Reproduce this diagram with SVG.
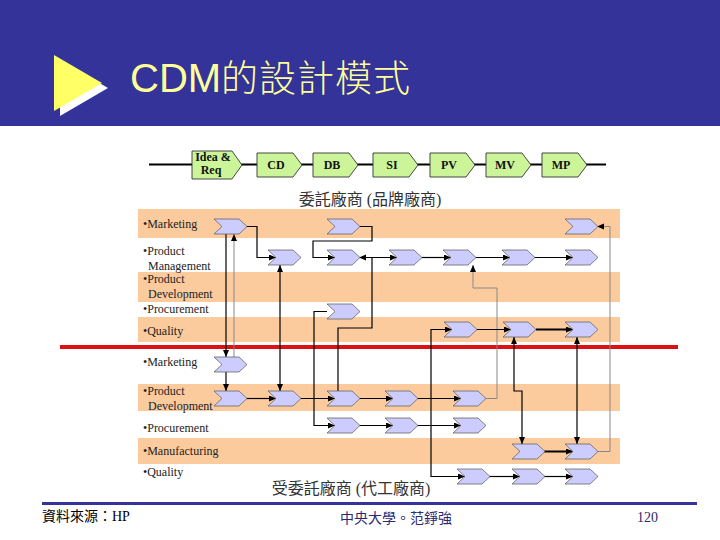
<svg xmlns="http://www.w3.org/2000/svg" xmlns:xlink="http://www.w3.org/1999/xlink" width="720" height="540" viewBox="0 0 720 540">
<style>
.band{fill:#FBCB9E}
.ch{fill:#CCCCFF;stroke:#666;stroke-width:0.8}
.ph{fill:#CCF59A;stroke:#333;stroke-width:0.9}
.pt{font-family:"Liberation Serif",serif;font-weight:bold;font-size:12px;fill:#111;text-anchor:middle}
.lb{font-family:"Liberation Serif",serif;font-size:12px;fill:#222}
.cap{font-family:"Liberation Serif","Noto Sans CJK TC",serif;font-size:16px;fill:#333}
.c{fill:none;stroke:#000;stroke-width:1.2}
.g{fill:none;stroke:#888;stroke-width:1}
.t{fill:none;stroke:#000;stroke-width:2}
.ft{font-family:"Liberation Serif","Noto Sans CJK TC",serif;font-size:14px}
</style>
<defs>
<marker id="ah" markerUnits="userSpaceOnUse" markerWidth="8" markerHeight="7" refX="7" refY="3" orient="auto-start-reverse"><path d="M0,0 L7,3 L0,6 Z" fill="#000"/></marker>
<path id="chev" d="M0,0 L25,0 L33,7.5 L25,15 L0,15 L8,7.5 Z"/>
<path id="phase" d="M0,0 L36,0 L45,12 L36,24 L0,24 Z"/>
</defs>
<rect width="720" height="540" fill="#fff"/>
<g id="header">
<rect x="0" y="0" width="720" height="126" fill="#333399"/>
<polygon points="60,60 60,116 108,88" fill="#fff"/>
<polygon points="54,55 54,111 102,83" fill="#FFFF66"/>
<text x="130" y="92" font-family="Liberation Sans,Noto Sans CJK TC,sans-serif" font-size="40" fill="#FFFF99">CDM<tspan font-family="Noto Sans CJK TC,sans-serif" font-size="37" font-weight="300" letter-spacing="1">的設計模式</tspan></text>
</g>
<g id="bands">
<rect class="band" x="138" y="209" width="482" height="29"/>
<rect class="band" x="138" y="272" width="482" height="30"/>
<rect class="band" x="138" y="317" width="482" height="25"/>
<rect class="band" x="138" y="384" width="482" height="27"/>
<rect class="band" x="138" y="438" width="482" height="26"/>
</g>
<g id="phases">
<line x1="149" y1="164.5" x2="606" y2="164.5" stroke="#000" stroke-width="2"/>
<path class="ph" d="M192,151 L232,151 L242,165 L232,179 L192,179 Z"/>
<text class="pt" x="213" y="161">Idea &amp;</text>
<text class="pt" x="211" y="174">Req</text>
<g id="p-cd"><use href="#phase" class="ph" x="257" y="153"/><text class="pt" x="276" y="169">CD</text></g>
<g id="p-db"><use href="#phase" class="ph" x="313" y="153"/><text class="pt" x="332" y="169">DB</text></g>
<g id="p-si"><use href="#phase" class="ph" x="373" y="153"/><text class="pt" x="392" y="169">SI</text></g>
<g id="p-pv"><use href="#phase" class="ph" x="430" y="153"/><text class="pt" x="449" y="169">PV</text></g>
<g id="p-mv"><use href="#phase" class="ph" x="486" y="153"/><text class="pt" x="505" y="169">MV</text></g>
<g id="p-mp"><use href="#phase" class="ph" x="542" y="153"/><text class="pt" x="561" y="169">MP</text></g>
</g>
<text class="cap" x="370" y="205" text-anchor="middle">委託廠商 (品牌廠商)</text>
<text class="cap" x="351" y="494" text-anchor="middle">受委託廠商 (代工廠商)</text>
<g id="labels">
<text class="lb" x="143" y="228">•Marketing</text>
<text class="lb" x="143" y="255">•Product</text>
<text class="lb" x="148" y="270">Management</text>
<text class="lb" x="143" y="283">•Product</text>
<text class="lb" x="148" y="298">Development</text>
<text class="lb" x="143" y="313">•Procurement</text>
<text class="lb" x="143" y="335">•Quality</text>
<text class="lb" x="143" y="366">•Marketing</text>
<text class="lb" x="143" y="395">•Product</text>
<text class="lb" x="148" y="410">Development</text>
<text class="lb" x="143" y="432">•Procurement</text>
<text class="lb" x="143" y="455">•Manufacturing</text>
<text class="lb" x="143" y="476">•Quality</text>
</g>
<line x1="60" y1="347" x2="678" y2="347" stroke="#DD1111" stroke-width="4"/>
<g id="connectors">
<path class="c" d="M247,226.5 H257 V257.5 H276" marker-end="url(#ah)"/>
<path class="c" d="M226,234 V357" marker-end="url(#ah)"/>
<path class="g" d="M234,357 V234" marker-end="url(#ah)"/>
<path class="c" d="M226,372 V391" marker-end="url(#ah)"/>
<path class="c" d="M280,265 V391" marker-start="url(#ah)" marker-end="url(#ah)"/>
<path class="c" d="M359,226.5 H372 V241 H313 V257.5 H335" marker-end="url(#ah)"/>
<path class="c" d="M338,391 V328 H372 V257.5 H359" marker-end="url(#ah)"/>
<path class="c" d="M359,257.5 H397" marker-end="url(#ah)"/>
<path class="c" d="M422,257.5 H451" marker-end="url(#ah)"/>
<path class="c" d="M476,257.5 H510" marker-end="url(#ah)"/>
<path class="c" d="M535,257.5 H573" marker-end="url(#ah)"/>
<path class="g" d="M486,398.5 H497 V288 H473 V265" stroke="#444" marker-end="url(#ah)"/>
<path class="g" d="M597,451.5 H610 V226.5 H597" marker-end="url(#ah)"/>
<path class="c" d="M477,329.5 H511" marker-end="url(#ah)"/>
<path class="t" d="M536,329.5 H573" marker-end="url(#ah)"/>
<path class="c" d="M514,337 V391 H522 V444" marker-start="url(#ah)" marker-end="url(#ah)"/>
<path class="c" d="M577,337 V444" marker-start="url(#ah)" marker-end="url(#ah)"/>
<path class="c" d="M452,329.5 H431 V476.5 H465" marker-start="url(#ah)" marker-end="url(#ah)"/>
<path class="c" d="M327,311.5 H314 V425.5 H335" marker-end="url(#ah)"/>
<path class="c" d="M247,398.5 H276" marker-end="url(#ah)"/>
<path class="c" d="M301,398.5 H335" marker-end="url(#ah)"/>
<path class="c" d="M359,398.5 H393" marker-end="url(#ah)"/>
<path class="c" d="M417,398.5 H461" marker-end="url(#ah)"/>
<path class="c" d="M359,425.5 H393" marker-end="url(#ah)"/>
<path class="c" d="M417,425.5 H461" marker-end="url(#ah)"/>
<path class="t" d="M544,451.5 H573" marker-end="url(#ah)"/>
<path class="c" d="M489,476.5 H520" marker-end="url(#ah)"/>
<path class="c" d="M544,476.5 H573" marker-end="url(#ah)"/>
</g>
<g id="activities">
<use href="#chev" class="ch" x="214" y="219"/>
<use href="#chev" class="ch" x="327" y="219"/>
<use href="#chev" class="ch" x="565" y="219"/>
<use href="#chev" class="ch" x="268" y="250"/>
<use href="#chev" class="ch" x="327" y="250"/>
<use href="#chev" class="ch" x="389" y="250"/>
<use href="#chev" class="ch" x="443" y="250"/>
<use href="#chev" class="ch" x="502" y="250"/>
<use href="#chev" class="ch" x="565" y="250"/>
<use href="#chev" class="ch" x="327" y="304"/>
<use href="#chev" class="ch" x="444" y="322"/>
<use href="#chev" class="ch" x="503" y="322"/>
<use href="#chev" class="ch" x="565" y="322"/>
<use href="#chev" class="ch" x="214" y="357"/>
<use href="#chev" class="ch" x="214" y="391"/>
<use href="#chev" class="ch" x="268" y="391"/>
<use href="#chev" class="ch" x="327" y="391"/>
<use href="#chev" class="ch" x="385" y="391"/>
<use href="#chev" class="ch" x="453" y="391"/>
<use href="#chev" class="ch" x="327" y="418"/>
<use href="#chev" class="ch" x="385" y="418"/>
<use href="#chev" class="ch" x="453" y="418"/>
<use href="#chev" class="ch" x="512" y="444"/>
<use href="#chev" class="ch" x="565" y="444"/>
<use href="#chev" class="ch" x="457" y="469"/>
<use href="#chev" class="ch" x="512" y="469"/>
<use href="#chev" class="ch" x="565" y="469"/>
</g>
<g id="footer">
<rect x="42" y="502" width="655" height="3" fill="#333399"/>
<text class="ft" x="42" y="521" fill="#000">資料來源：HP</text>
<text class="ft" x="396" y="523" fill="#2a2a70" text-anchor="middle">中央大學。范錚強</text>
<text class="ft" x="637" y="522" fill="#2a2a70">120</text>
</g>
</svg>
